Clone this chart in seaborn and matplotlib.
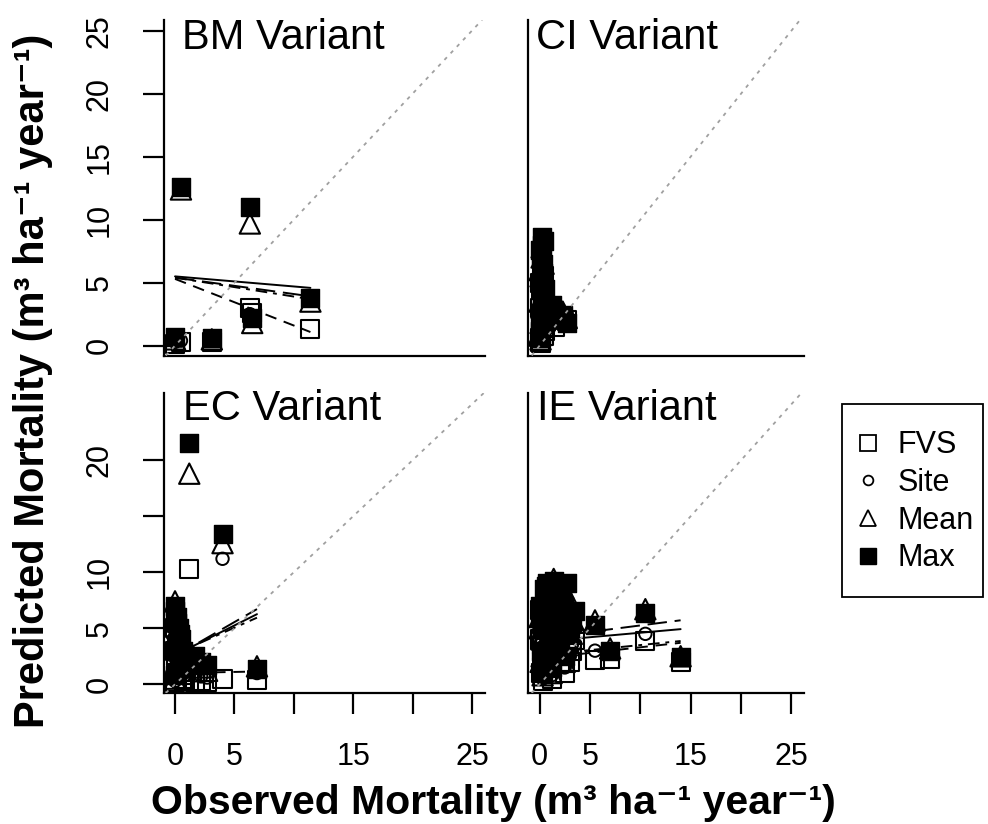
import numpy as np
import pandas as pd
import seaborn as sns
import matplotlib
matplotlib.use("Agg")
import matplotlib.pyplot as plt
from matplotlib.lines import Line2D
from matplotlib.patches import Rectangle

# ---------------- data ----------------
methods = ["FVS", "Site", "Mean", "Max"]
variants = ["BM Variant", "CI Variant", "EC Variant", "IE Variant"]

bm_obs  = [0.0, 0.5, 3.1, 6.3, 6.5, 11.4]
bm_fvs  = [0.1, 0.3, 0.3, 3.0, 2.6, 1.3]
bm_site = [0.3, 0.4, 0.4, 2.5, 2.2, 3.7]
bm_mean = [0.5, 12.4, 0.5, 9.7, 1.8, 3.5]
bm_max  = [0.7, 12.6, 0.6, 11.0, 2.2, 3.8]

ci_obs  = [0.0, 0.1, 0.2, 0.3, 0.4, 0.0, 0.1, 0.3, 0.6, 2.3, 2.7, 1.2, 0.2, 0.0, 0.5, 0.3, 0.1, 0.4, 0.0, 0.2, 1.5, 0.5]
ci_fvs  = [0.3, 1.0, 2.5, 4.0, 5.5, 3.0, 0.2, 1.8, 2.0, 2.3, 2.0, 2.4, 6.0, 0.6, 1.2, 3.5, 4.5, 0.8, 5.0, 7.0, 1.5, 3.0]
ci_site = [0.5, 1.2, 2.0, 3.5, 4.5, 2.5, 0.4, 1.5, 1.8, 2.2, 2.5, 2.0, 5.0, 0.8, 1.5, 3.0, 4.0, 1.0, 4.5, 6.0, 1.8, 2.7]
ci_mean = [0.8, 1.8, 3.0, 5.0, 6.5, 3.5, 0.5, 2.2, 2.5, 2.7, 2.2, 2.8, 7.0, 1.0, 2.0, 4.5, 5.5, 1.5, 6.0, 7.8, 2.2, 3.5]
ci_max  = [1.2, 2.5, 4.0, 6.5, 8.3, 5.0, 0.7, 3.0, 3.0, 2.4, 1.8, 3.2, 8.6, 1.5, 2.8, 5.8, 7.2, 2.0, 7.6, 8.0, 2.6, 4.5]

ec_obs  = [0.0, 0.0, 0.1, 0.2, 0.4, 0.6, 0.8, 1.2, 1.7, 2.7, 4.0, 6.9, 2.2, 0.3, 0.5, 0.1, 0.7, 0.0, 0.2]
ec_fvs  = [0.2, 3.0, 1.0, 5.5, 2.0, 0.5, 0.3, 10.3, 0.2, 0.2, 0.5, 0.4, 0.3, 4.0, 1.5, 2.5, 0.8, 5.0, 3.5]
ec_site = [0.3, 4.0, 1.5, 4.5, 2.5, 1.0, 0.8, 2.0, 0.8, 0.6, 11.2, 1.0, 0.7, 3.5, 2.0, 3.0, 1.0, 5.5, 3.0]
ec_mean = [0.5, 7.4, 2.0, 4.0, 3.0, 1.2, 1.5, 18.8, 1.8, 1.2, 12.6, 1.6, 1.5, 4.5, 3.5, 4.0, 2.0, 6.0, 5.0]
ec_max  = [0.8, 7.0, 3.0, 5.5, 4.5, 2.0, 2.5, 21.5, 2.5, 1.7, 13.4, 1.4, 2.0, 5.0, 4.0, 5.8, 3.0, 6.5, 6.0]

ie_obs  = [0.0, 0.1, 0.2, 0.3, 0.5, 0.6, 0.8, 1.0, 1.4, 1.8, 2.2, 2.7, 3.0, 3.5, 2.5, 5.5, 7.0, 10.5, 14.0, 1.2,
           0.0, 0.4, 0.9, 1.6, 2.0, 0.2, 1.1, 3.2, 0.7, 2.4]
ie_fvs  = [6.6, 1.0, 3.5, 0.3, 4.5, 2.0, 5.5, 1.5, 7.0, 3.0, 5.0, 6.0, 2.0, 4.0, 1.0, 2.2, 2.3, 3.9, 2.0, 0.5,
           4.0, 5.5, 3.0, 6.0, 2.0, 1.5, 4.0, 3.0, 6.5, 4.5]
ie_site = [5.0, 1.5, 2.5, 0.5, 3.5, 2.5, 4.0, 2.0, 6.0, 2.5, 4.0, 5.0, 2.5, 3.5, 1.5, 3.0, 2.8, 4.5, 2.2, 0.8,
           3.5, 4.5, 2.5, 5.0, 2.5, 1.0, 3.5, 3.5, 5.5, 4.0]
ie_mean = [6.0, 2.0, 4.0, 0.8, 5.0, 3.0, 6.0, 2.5, 9.4, 4.5, 6.5, 8.0, 3.5, 5.5, 2.0, 5.7, 3.2, 6.7, 2.5, 1.0,
           5.0, 7.0, 3.5, 7.5, 3.5, 2.5, 5.0, 4.5, 8.0, 6.0]
ie_max  = [7.0, 3.0, 5.0, 1.2, 6.5, 8.8, 7.5, 3.5, 9.2, 5.5, 8.5, 9.0, 4.5, 6.5, 2.5, 5.3, 3.0, 6.4, 2.4, 1.5,
           6.0, 8.5, 4.5, 8.6, 4.0, 3.0, 6.0, 5.5, 9.0, 7.0]

# fitted lines (FVS, Site, Mean, Max): intercepts, slopes, observed range
bm_fit_a = [5.3, 5.4, 5.5, 5.4]
bm_fit_b = [-0.37, -0.15, -0.08, -0.13]
bm_fit_x = [0.0, 11.4]
ci_fit_a = [1.8, 1.9, 2.4, 3.3]
ci_fit_b = [0.1, 0.15, 0.1, -0.3]
ci_fit_x = [0.0, 2.7]
ec_fit_a = [1.0, 2.7, 2.6, 2.5]
ec_fit_b = [0.02, 0.47, 0.53, 0.61]
ec_fit_x = [0.0, 6.9]
ie_fit_a = [2.3, 2.6, 3.8, 4.1]
ie_fit_b = [0.10, 0.09, 0.08, 0.115]
ie_fit_x = [0.0, 14.0]

x_ticks = [0, 5, 10, 15, 20, 25]
x_ticklabels = ["0", "5", "", "15", "", "25"]
y_ticks_top = [0, 5, 10, 15, 20, 25]
y_ticklabels_top = ["0", "5", "10", "15", "20", "25"]
y_ticks_bot = [0, 5, 10, 15, 20]
y_ticklabels_bot = ["0", "5", "10", "", "20"]

# ---------------- style ----------------
sns.set_style("white")
plt.rcParams["font.family"] = ["Liberation Sans", "DejaVu Sans"]
plt.rcParams["text.color"] = "black"
plt.rcParams["xtick.color"] = "black"
plt.rcParams["ytick.color"] = "black"
plt.rcParams["axes.labelcolor"] = "black"

fig = plt.figure(figsize=(9.88, 8.24), dpi=100)

L_left, L_w = 163.5 / 988, (485 - 163.5) / 988
R_left, R_w = 528 / 988, (803.5 - 528) / 988
T_bot, T_h = 1 - 355.5 / 824, (355.5 - 20) / 824
B_bot, B_h = 1 - 693 / 824, (693 - 393) / 824

rects = [(L_left, T_bot, L_w, T_h), (R_left, T_bot, R_w, T_h),
         (L_left, B_bot, L_w, B_h), (R_left, B_bot, R_w, B_h)]
xlims = [(-0.97, 26.1), (-1.15, 26.2), (-0.97, 26.1), (-1.15, 26.2)]
ylims = [(-0.78, 25.85), (-0.78, 25.85), (-0.78, 26.0), (-0.78, 26.0)]
title_pos = [(0.058, 0.915), (0.03, 0.915), (0.061, 0.91), (0.032, 0.91)]

panels = [
    (bm_obs, [bm_fvs, bm_site, bm_mean, bm_max], bm_fit_a, bm_fit_b, bm_fit_x),
    (ci_obs, [ci_fvs, ci_site, ci_mean, ci_max], ci_fit_a, ci_fit_b, ci_fit_x),
    (ec_obs, [ec_fvs, ec_site, ec_mean, ec_max], ec_fit_a, ec_fit_b, ec_fit_x),
    (ie_obs, [ie_fvs, ie_site, ie_mean, ie_max], ie_fit_a, ie_fit_b, ie_fit_x),
]

mk_style = {
    "FVS":  dict(marker="s", s=170, facecolors="none", edgecolor="black", linewidth=1.5),
    "Site": dict(marker="o", s=80, facecolors="none", edgecolor="black", linewidth=1.4),
    "Mean": dict(marker="^", s=215, facecolors="none", edgecolor="black", linewidth=1.5),
    "Max":  dict(marker="s", s=170, color="black", edgecolor="black", linewidth=1.0),
}
line_styles = {"FVS": (0, (6, 4)), "Site": (0, (6, 3, 2, 3)), "Mean": "-", "Max": (0, (10, 4))}

for i, (obs, preds, fa, fb, fx) in enumerate(panels):
    ax = fig.add_axes(rects[i])
    for m, p in zip(methods, preds):
        df = pd.DataFrame({"obs": obs, "pred": p})
        sns.scatterplot(data=df, x="obs", y="pred", ax=ax, legend=False,
                        zorder=3, **mk_style[m])
    for j, m in enumerate(methods):
        xs = np.array(fx)
        ys = fa[j] + fb[j] * xs
        sns.lineplot(x=xs, y=ys, ax=ax, color="black", linewidth=1.4,
                     linestyle=line_styles[m], legend=False, zorder=4,
                     estimator=None, sort=False)
    ax.axline((0, 0), slope=1, color="#a0a0a0", linewidth=1.3,
              linestyle=(0, (2, 3)), zorder=5)
    ax.set_xlim(*xlims[i])
    ax.set_ylim(*ylims[i])
    ax.set_xlabel("")
    ax.set_ylabel("")
    for sp in ["top", "right"]:
        ax.spines[sp].set_visible(False)
    for sp in ["left", "bottom"]:
        ax.spines[sp].set_color("black")
        ax.spines[sp].set_linewidth(1.6)
    ax.tick_params(axis="both", which="both", length=15, width=1.6, pad=20,
                   labelsize=22, direction="out", colors="black",
                   bottom=True, left=True, top=False, right=False)
    # x axis ticks only on bottom row
    if i >= 2:
        ax.set_xticks(x_ticks)
        ax.set_xticklabels(x_ticklabels)
    else:
        ax.set_xticks([])
    # y axis ticks only on left column
    if i == 0:
        ax.set_yticks(y_ticks_top)
        ax.set_yticklabels(y_ticklabels_top, rotation=90, va="center")
    elif i == 2:
        ax.set_yticks(y_ticks_bot)
        ax.set_yticklabels(y_ticklabels_bot, rotation=90, va="center")
    else:
        ax.set_yticks([])
    tx, ty = title_pos[i]
    ax.text(tx, ty, variants[i], transform=ax.transAxes, fontsize=30,
            ha="left", va="baseline", color="black", zorder=6)

# axis labels
fig.text(0.0334, 0.538, "Predicted Mortality (m³ ha⁻¹ year⁻¹)", rotation=90,
         ha="center", va="center", fontsize=30, fontweight="bold",
         family=["Liberation Sans", "DejaVu Sans"])
fig.text(0.499, 1 - 814 / 824, "Observed Mortality (m³ ha⁻¹ year⁻¹)",
         ha="center", va="baseline", fontsize=29.5, fontweight="bold",
         family=["Liberation Sans", "DejaVu Sans"])

# legend
handles = [
    Line2D([], [], marker="s", markersize=11, markerfacecolor="none",
           markeredgecolor="black", markeredgewidth=1.3, linestyle="none"),
    Line2D([], [], marker="o", markersize=7, markerfacecolor="none",
           markeredgecolor="black", markeredgewidth=1.3, linestyle="none"),
    Line2D([], [], marker="^", markersize=12, markerfacecolor="none",
           markeredgecolor="black", markeredgewidth=1.3, linestyle="none"),
    Line2D([], [], marker="s", markersize=11, markerfacecolor="black",
           markeredgecolor="black", linestyle="none"),
]
fig.legend(handles, methods, loc="upper left",
           bbox_to_anchor=(852.7 / 988, 1 - 430.5 / 824),
           frameon=False, fontsize=22, handlelength=1.0, handletextpad=0.48,
           labelspacing=0.25, borderpad=0, borderaxespad=0)
fig.add_artist(Rectangle((842 / 988, 1 - 597 / 824), 141 / 988, 193 / 824,
                         transform=fig.transFigure, fill=False,
                         edgecolor="black", linewidth=1.3))

fig.savefig("out.png", dpi=100)
